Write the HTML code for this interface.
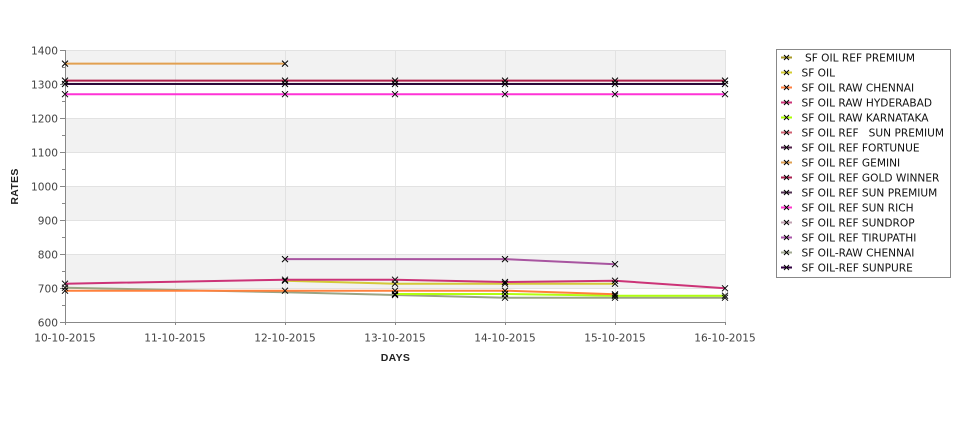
<!DOCTYPE html>
<html>
<head>
<meta charset="utf-8">
<style>
  html,body{margin:0;padding:0;background:#fff;}
  svg{display:block;}
  text{font-family:"DejaVu Sans","Liberation Sans",sans-serif;}
</style>
</head>
<body>
<svg width="975" height="429" viewBox="0 0 975 429" xmlns="http://www.w3.org/2000/svg">
  <rect x="0" y="0" width="975" height="429" fill="#fff"/>
  <!-- bands -->
  <g fill="#f2f2f2">
    <rect x="65" y="50" width="660" height="34"/>
    <rect x="65" y="118" width="660" height="34"/>
    <rect x="65" y="186" width="660" height="34"/>
    <rect x="65" y="254" width="660" height="34"/>
  </g>
  <!-- grid -->
  <g stroke="#e2e2e2" stroke-width="1">
    <line x1="65" y1="50.5" x2="725" y2="50.5"/>
    <line x1="65" y1="84.5" x2="725" y2="84.5"/>
    <line x1="65" y1="118.5" x2="725" y2="118.5"/>
    <line x1="65" y1="152.5" x2="725" y2="152.5"/>
    <line x1="65" y1="186.5" x2="725" y2="186.5"/>
    <line x1="65" y1="220.5" x2="725" y2="220.5"/>
    <line x1="65" y1="254.5" x2="725" y2="254.5"/>
    <line x1="65" y1="288.5" x2="725" y2="288.5"/>
    <line x1="175.5" y1="50" x2="175.5" y2="322"/>
    <line x1="285.5" y1="50" x2="285.5" y2="322"/>
    <line x1="395.5" y1="50" x2="395.5" y2="322"/>
    <line x1="505.5" y1="50" x2="505.5" y2="322"/>
    <line x1="615.5" y1="50" x2="615.5" y2="322"/>
    <line x1="725.5" y1="50" x2="725.5" y2="322"/>
  </g>
  <!-- axes -->
  <g stroke="#888" stroke-width="1">
    <line x1="65.5" y1="50" x2="65.5" y2="322.5"/>
    <line x1="65" y1="322.5" x2="726" y2="322.5"/>
    <line x1="60" y1="50.5" x2="65" y2="50.5"/>
    <line x1="60" y1="84.5" x2="65" y2="84.5"/>
    <line x1="60" y1="118.5" x2="65" y2="118.5"/>
    <line x1="60" y1="152.5" x2="65" y2="152.5"/>
    <line x1="60" y1="186.5" x2="65" y2="186.5"/>
    <line x1="60" y1="220.5" x2="65" y2="220.5"/>
    <line x1="60" y1="254.5" x2="65" y2="254.5"/>
    <line x1="60" y1="288.5" x2="65" y2="288.5"/>
    <line x1="60" y1="322.5" x2="65" y2="322.5"/>
    <line x1="62" y1="67.5" x2="65" y2="67.5"/>
    <line x1="62" y1="101.5" x2="65" y2="101.5"/>
    <line x1="62" y1="135.5" x2="65" y2="135.5"/>
    <line x1="62" y1="169.5" x2="65" y2="169.5"/>
    <line x1="62" y1="203.5" x2="65" y2="203.5"/>
    <line x1="62" y1="237.5" x2="65" y2="237.5"/>
    <line x1="62" y1="271.5" x2="65" y2="271.5"/>
    <line x1="62" y1="305.5" x2="65" y2="305.5"/>
    <line x1="65.5" y1="322" x2="65.5" y2="325"/>
    <line x1="175.5" y1="322" x2="175.5" y2="325"/>
    <line x1="285.5" y1="322" x2="285.5" y2="325"/>
    <line x1="395.5" y1="322" x2="395.5" y2="325"/>
    <line x1="505.5" y1="322" x2="505.5" y2="325"/>
    <line x1="615.5" y1="322" x2="615.5" y2="325"/>
    <line x1="725.5" y1="322" x2="725.5" y2="325"/>
  </g>
  <!-- y tick labels -->
  <g font-size="10.6" fill="#444" text-anchor="end">
    <text x="58" y="54.5">1400</text>
    <text x="58" y="88.5">1300</text>
    <text x="58" y="122.5">1200</text>
    <text x="58" y="156.5">1100</text>
    <text x="58" y="190.5">1000</text>
    <text x="58" y="224.5">900</text>
    <text x="58" y="258.5">800</text>
    <text x="58" y="292.5">700</text>
    <text x="58" y="326.5">600</text>
  </g>
  <!-- x tick labels -->
  <g font-size="10.6" fill="#444" text-anchor="middle">
    <text x="65" y="341.5">10-10-2015</text>
    <text x="175" y="341.5">11-10-2015</text>
    <text x="285" y="341.5">12-10-2015</text>
    <text x="395" y="341.5">13-10-2015</text>
    <text x="505" y="341.5">14-10-2015</text>
    <text x="615" y="341.5">15-10-2015</text>
    <text x="725" y="341.5">16-10-2015</text>
  </g>
  <!-- axis titles -->
  <text x="395.5" y="361" font-size="10.5" font-weight="bold" fill="#222" text-anchor="middle" style="font-family:'Liberation Sans',sans-serif;letter-spacing:0.3px">DAYS</text>
  <text x="0" y="0" font-size="10.5" font-weight="bold" fill="#222" text-anchor="middle" transform="translate(18,186.5) rotate(-90)" style="font-family:'Liberation Sans',sans-serif;letter-spacing:0.3px">RATES</text>

  <!-- series -->
  <g fill="none" stroke-width="2" stroke-linejoin="round">
    <polyline stroke="#e2a050" points="65,63.6 285,63.6"/>
    <polyline stroke="#b0204c" points="65,80.6 725,80.6"/>
    <polyline stroke="#2c0a38" points="65,84 725,84"/>
    <polyline stroke="#ff33d6" points="65,94.2 725,94.2"/>
    <polyline stroke="#a855a0" points="285,259.1 505,259.1 615,264.2"/>
    <polyline stroke="#9aa484" points="65,287.7 285,292.3 395,295 505,297.7 615,297.7 725,297.7"/>
    <polyline stroke="#b0ff10" points="395,294 505,294 615,295.7 725,295.7"/>
    <polyline stroke="#ff803c" points="65,290.7 505,290.7 615,294.3"/>
    <polyline stroke="#d4c838" points="285,280.7 395,283.7 505,283.7 615,283.7"/>
    <polyline stroke="#cc3377" points="65,283.7 285,279.7 395,279.7 505,282 615,280.7 725,288.3"/>
  </g>

  <!-- markers -->
  <path stroke="#000" stroke-width="1" fill="none" d="
    M62,60.6l6,6m-6,0l6,-6 M62,77.6l6,6m-6,0l6,-6 M62,81l6,6m-6,0l6,-6 M62,91.2l6,6m-6,0l6,-6
    M62,280.7l6,6m-6,0l6,-6 M62,284.7l6,6m-6,0l6,-6 M62,287.7l6,6m-6,0l6,-6
    M282,60.6l6,6m-6,0l6,-6 M282,77.6l6,6m-6,0l6,-6 M282,81l6,6m-6,0l6,-6 M282,91.2l6,6m-6,0l6,-6
    M282,256.1l6,6m-6,0l6,-6 M282,276.7l6,6m-6,0l6,-6 M282,277.7l6,6m-6,0l6,-6 M282,287.7l6,6m-6,0l6,-6
    M392,77.6l6,6m-6,0l6,-6 M392,81l6,6m-6,0l6,-6 M392,91.2l6,6m-6,0l6,-6
    M392,276.7l6,6m-6,0l6,-6 M392,280.7l6,6m-6,0l6,-6 M392,287.7l6,6m-6,0l6,-6 M392,291l6,6m-6,0l6,-6 M392,292l6,6m-6,0l6,-6
    M502,77.6l6,6m-6,0l6,-6 M502,81l6,6m-6,0l6,-6 M502,91.2l6,6m-6,0l6,-6
    M502,256.1l6,6m-6,0l6,-6 M502,279l6,6m-6,0l6,-6 M502,280.7l6,6m-6,0l6,-6 M502,287.7l6,6m-6,0l6,-6 M502,291l6,6m-6,0l6,-6 M502,294.7l6,6m-6,0l6,-6
    M612,77.6l6,6m-6,0l6,-6 M612,81l6,6m-6,0l6,-6 M612,91.2l6,6m-6,0l6,-6
    M612,261.2l6,6m-6,0l6,-6 M612,277.7l6,6m-6,0l6,-6 M612,280.7l6,6m-6,0l6,-6 M612,291.3l6,6m-6,0l6,-6 M612,292.7l6,6m-6,0l6,-6 M612,294.7l6,6m-6,0l6,-6
    M722,77.6l6,6m-6,0l6,-6 M722,81l6,6m-6,0l6,-6 M722,91.2l6,6m-6,0l6,-6
    M722,285.3l6,6m-6,0l6,-6 M722,292.7l6,6m-6,0l6,-6 M722,294.7l6,6m-6,0l6,-6
  "/>

  <!-- legend -->
  <rect x="776.5" y="49.5" width="174" height="228" fill="#fff" stroke="#888" stroke-width="1"/>
  <g stroke-width="2">
    <line x1="781" y1="57.5" x2="792" y2="57.5" stroke="#a89a2a"/>
    <line x1="781" y1="72.5" x2="792" y2="72.5" stroke="#d4cc30"/>
    <line x1="781" y1="87.5" x2="792" y2="87.5" stroke="#ff7f3f"/>
    <line x1="781" y1="102.5" x2="792" y2="102.5" stroke="#cc3377"/>
    <line x1="781" y1="117.5" x2="792" y2="117.5" stroke="#aaff00"/>
    <line x1="781" y1="132.5" x2="792" y2="132.5" stroke="#d06070"/>
    <line x1="781" y1="147.5" x2="792" y2="147.5" stroke="#50204a"/>
    <line x1="781" y1="162.5" x2="792" y2="162.5" stroke="#e0a050"/>
    <line x1="781" y1="177.5" x2="792" y2="177.5" stroke="#aa2050"/>
    <line x1="781" y1="192.5" x2="792" y2="192.5" stroke="#503050"/>
    <line x1="781" y1="207.5" x2="792" y2="207.5" stroke="#ff33cc"/>
    <line x1="781" y1="222.5" x2="792" y2="222.5" stroke="#c0a0b0"/>
    <line x1="781" y1="237.5" x2="792" y2="237.5" stroke="#aa55aa"/>
    <line x1="781" y1="252.5" x2="792" y2="252.5" stroke="#a0a890"/>
    <line x1="781" y1="267.5" x2="792" y2="267.5" stroke="#300040"/>
  </g>
  <path stroke="#000" stroke-width="1" fill="none" d="
    M784,55l5,5m-5,0l5,-5 M784,70l5,5m-5,0l5,-5 M784,85l5,5m-5,0l5,-5 M784,100l5,5m-5,0l5,-5
    M784,115l5,5m-5,0l5,-5 M784,130l5,5m-5,0l5,-5 M784,145l5,5m-5,0l5,-5 M784,160l5,5m-5,0l5,-5
    M784,175l5,5m-5,0l5,-5 M784,190l5,5m-5,0l5,-5 M784,205l5,5m-5,0l5,-5 M784,220l5,5m-5,0l5,-5
    M784,235l5,5m-5,0l5,-5 M784,250l5,5m-5,0l5,-5 M784,265l5,5m-5,0l5,-5
  "/>
  <g font-size="10.6" fill="#111">
    <text x="805" y="61.5">SF OIL REF PREMIUM</text>
    <text x="801.5" y="76.5">SF OIL</text>
    <text x="801.5" y="91.5">SF OIL RAW CHENNAI</text>
    <text x="801.5" y="106.5">SF OIL RAW HYDERABAD</text>
    <text x="801.5" y="121.5">SF OIL RAW KARNATAKA</text>
    <text x="801.5" y="136.5" xml:space="preserve">SF OIL REF   SUN PREMIUM</text>
    <text x="801.5" y="151.5">SF OIL REF FORTUNUE</text>
    <text x="801.5" y="166.5">SF OIL REF GEMINI</text>
    <text x="801.5" y="181.5">SF OIL REF GOLD WINNER</text>
    <text x="801.5" y="196.5">SF OIL REF SUN PREMIUM</text>
    <text x="801.5" y="211.5">SF OIL REF SUN RICH</text>
    <text x="801.5" y="226.5">SF OIL REF SUNDROP</text>
    <text x="801.5" y="241.5">SF OIL REF TIRUPATHI</text>
    <text x="801.5" y="256.5">SF OIL-RAW CHENNAI</text>
    <text x="801.5" y="271.5">SF OIL-REF SUNPURE</text>
  </g>
</svg>
</body>
</html>
